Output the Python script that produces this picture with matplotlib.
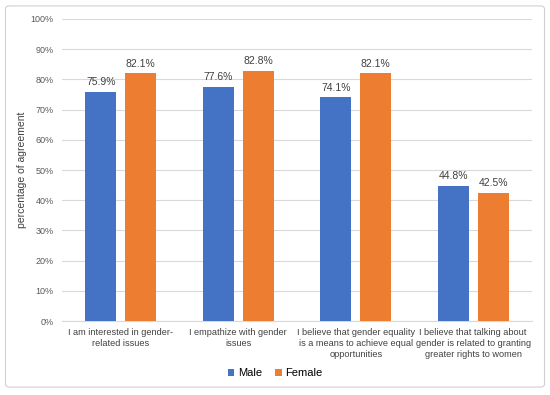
import numpy as np
import matplotlib
matplotlib.use("Agg")
import matplotlib.pyplot as plt
from matplotlib.patches import FancyBboxPatch

plt.rcParams['font.family'] = ['Liberation Sans', 'DejaVu Sans']

categories = ["I am interested in gender-\nrelated issues",
              "I empathize with gender\nissues",
              "I believe that gender equality\nis a means to achieve equal\nopportunities",
              "I believe that talking about\ngender is related to granting\ngreater rights to women"]
male = [75.9, 77.6, 74.1, 44.8]
female = [82.1, 82.8, 82.1, 42.5]

blue = "#4472C4"
orange = "#ED7D31"

fig = plt.figure(figsize=(5.5, 3.95), dpi=100)
ax = fig.add_axes([0.113, 0.187, 0.854, 0.765])

# outer frame
fig.patches.append(FancyBboxPatch((0.01, 0.02), 0.98, 0.965, boxstyle="round,pad=0,rounding_size=0.008",
                                  transform=fig.transFigure, fill=False, edgecolor="#d0d0d0", linewidth=0.8))

x = np.arange(len(categories))
w = 0.265
b1 = ax.bar(x - 0.17, male, w, color=blue, label="Male", zorder=3)
b2 = ax.bar(x + 0.17, female, w, color=orange, label="Female", zorder=3)

for bars, vals in [(b1, male), (b2, female)]:
    for rect, v in zip(bars, vals):
        ax.text(rect.get_x() + rect.get_width() / 2, v + 1.5, f"{v:.1f}%",
                ha="center", va="bottom", fontsize=7.5, color="#404040")

ax.set_xlim(-0.5, 3.5)
ax.set_ylim(0, 100)
ax.set_yticks(np.arange(0, 101, 10))
ax.set_yticklabels([f"{t}%" for t in range(0, 101, 10)])
ax.set_xticks(x)
ax.set_xticklabels(categories, fontsize=6.6, color="#404040", linespacing=1.3)
ax.tick_params(axis="y", labelsize=6.5, labelcolor="#595959", length=0, pad=6)
ax.tick_params(axis="x", length=0, pad=5)
ax.grid(axis="y", color="#d9d9d9", linewidth=0.8, zorder=0)
for s in ["top", "right", "left"]:
    ax.spines[s].set_visible(False)
ax.spines["bottom"].set_color("#d9d9d9")
ax.set_ylabel("percentage of agreement", fontsize=7.5, color="#404040")
ax.yaxis.set_label_coords(-0.074, 0.5)

fig.legend(loc="center", bbox_to_anchor=(0.5, 0.055), ncol=2, frameon=False, fontsize=8,
           handlelength=0.6, handleheight=0.6, handletextpad=0.3, columnspacing=1.2)

fig.savefig("out.png", dpi=100)
